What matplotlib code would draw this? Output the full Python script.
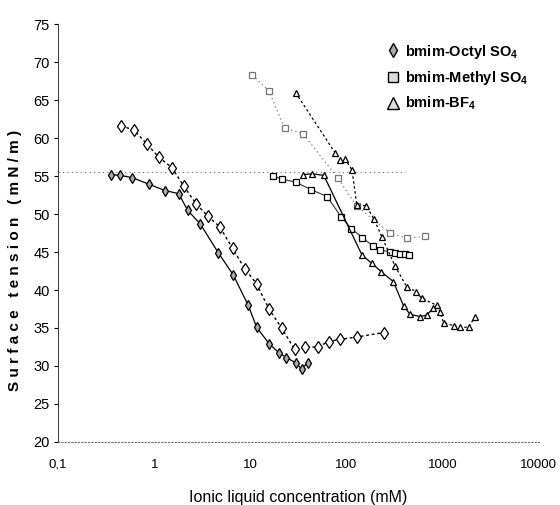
import matplotlib
matplotlib.use("Agg")
import matplotlib.pyplot as plt
from matplotlib.lines import Line2D

# ---- data ----
oct_lo_x = [0.35, 0.44, 0.59, 0.89, 1.29, 1.79, 2.22, 3.01, 4.63, 6.62, 9.47, 11.6, 15.7, 20.0, 23.6, 29.8, 34.0, 39.3]
oct_lo_y = [55.2, 55.1, 54.8, 53.9, 53.1, 52.7, 50.5, 48.7, 44.9, 42.0, 38.0, 35.1, 32.9, 31.7, 31.1, 30.4, 29.6, 30.4]

oct_hi_x = [0.45, 0.61, 0.84, 1.11, 1.53, 2.02, 2.74, 3.63, 4.81, 6.51, 8.73, 11.6, 15.6, 21.1, 28.8, 37.2, 50.0, 65.0, 85.0, 127.0, 243.0]
oct_hi_y = [61.6, 61.1, 59.2, 57.5, 56.1, 53.7, 51.3, 49.7, 48.3, 45.5, 42.8, 40.8, 37.5, 35.0, 32.2, 32.5, 32.5, 33.2, 33.5, 33.8, 34.4]

met_hi_x = [10.5, 15.6, 22.7, 35.1, 81.7, 128.0, 285.0, 424.0, 656.0]
met_hi_y = [68.3, 66.2, 61.3, 60.6, 54.7, 51.0, 47.5, 46.8, 47.1]

met_lo_x = [17.3, 21.5, 29.5, 43.2, 62.8, 88.3, 112.0, 146.0, 188.0, 221.0, 285.0, 321.0, 361.0, 407.0, 452.0]
met_lo_y = [55.0, 54.6, 54.2, 53.2, 52.3, 49.6, 48.1, 46.9, 45.8, 45.3, 45.0, 44.9, 44.8, 44.7, 44.6]

bf4_hi_x = [29.5, 76.6, 86.3, 97.2, 114.0, 128.0, 160.0, 194.0, 233.0, 321.0, 424.0, 529.0, 606.0, 867.0, 938.0, 1023.0, 1300.0, 1510.0, 1860.0, 2160.0]
bf4_hi_y = [66.0, 58.0, 57.1, 57.2, 55.8, 51.2, 51.1, 49.3, 47.0, 43.1, 40.4, 39.8, 38.9, 38.0, 37.1, 35.7, 35.3, 35.1, 35.1, 36.4]

bf4_lo_x = [35.4, 43.9, 58.0, 145.0, 184.0, 230.0, 308.0, 392.0, 458.0, 582.0, 683.0, 801.0]
bf4_lo_y = [55.2, 55.3, 55.1, 44.6, 43.5, 42.4, 41.1, 37.9, 36.8, 36.5, 36.7, 37.6]

ref_x = [0.1, 404.0]
ref_y = [55.6, 55.6]

x_ticks = [0.1, 1, 10, 100, 1000, 10000]
x_tick_labels = ["0,1", "1", "10", "100", "1000", "10000"]
y_ticks = [20, 25, 30, 35, 40, 45, 50, 55, 60, 65, 70, 75]

legend_labels = ["bmim-Octyl SO$_4$", "bmim-Methyl SO$_4$", "bmim-BF$_4$"]

# ---- figure ----
plt.rcParams["font.family"] = ["Liberation Sans", "DejaVu Sans"]
plt.rcParams["mathtext.fontset"] = "custom"
plt.rcParams["mathtext.rm"] = "Liberation Sans:bold"
plt.rcParams["mathtext.bf"] = "Liberation Sans:bold"

fig = plt.figure(figsize=(5.6, 5.05), dpi=100)
ax = fig.add_axes([0.104, 0.125, 0.858, 0.827])

ax.plot(ref_x, ref_y, color="#666666", lw=0.8, ls=(0, (1, 3)))

ax.plot(oct_lo_x, oct_lo_y, color="black", lw=0.9, ls="-",
        marker="d", ms=5, mfc="#aaaaaa", mec="black", mew=0.9)
ax.plot(oct_hi_x, oct_hi_y, color="black", lw=1.0, ls=(0, (2, 2)),
        marker="d", ms=6, mfc="white", mec="black", mew=0.9)

ax.plot(met_hi_x, met_hi_y, color="#777777", lw=0.9, ls=(0, (1, 2.5)),
        marker="s", ms=4.5, mfc="white", mec="#777777", mew=0.9)
ax.plot(met_lo_x, met_lo_y, color="#333333", lw=0.8, ls="-",
        marker="s", ms=4, mfc="white", mec="black", mew=0.9)

ax.plot(bf4_hi_x, bf4_hi_y, color="black", lw=0.9, ls=(0, (2, 2)),
        marker="^", ms=5, mfc="white", mec="black", mew=0.9)
ax.plot(bf4_lo_x, bf4_lo_y, color="black", lw=0.9, ls="-",
        marker="^", ms=5, mfc="white", mec="black", mew=0.9)

ax.set_xscale("log")
ax.set_xlim(0.1, 10000)
ax.set_ylim(20, 75)
ax.set_xticks(x_ticks)
ax.set_xticklabels(x_tick_labels)
ax.minorticks_off()
ax.set_yticks(y_ticks)
ax.tick_params(axis="x", length=0, pad=12, labelsize=9.5)
ax.tick_params(axis="y", length=3, width=0.8, direction="out", pad=3, labelsize=10.5)

for s in ["top", "right"]:
    ax.spines[s].set_visible(False)
ax.spines["left"].set_linewidth(0.8)
ax.spines["left"].set_color("#444444")
ax.spines["bottom"].set_linestyle((0, (1, 2)))
ax.spines["bottom"].set_linewidth(0.8)
ax.spines["bottom"].set_color("#666666")

ax.set_xlabel("Ionic liquid concentration (mM)", fontsize=11.5)
ax.xaxis.set_label_coords(0.5, -0.115)
ax.set_ylabel("S u r f a c e   t e n s i o n   ( m N / m )", fontsize=11,
              fontweight="bold")
ax.yaxis.set_label_coords(-0.075, 0.435)

handles = [
    Line2D([], [], ls="none", marker="d", ms=7, mfc="#aaaaaa", mec="black", mew=1.0),
    Line2D([], [], ls="none", marker="s", ms=7, mfc="#dddddd", mec="black", mew=1.0),
    Line2D([], [], ls="none", marker="^", ms=8, mfc="#dddddd", mec="black", mew=1.0),
]
ax.legend(handles, legend_labels, loc="upper left", bbox_to_anchor=(0.67, 0.97),
          frameon=False, handletextpad=0.3, handlelength=1.0,
          labelspacing=0.55, borderaxespad=0, prop={"weight": "bold", "size": 10.5})

fig.savefig("out.png", dpi=100)
